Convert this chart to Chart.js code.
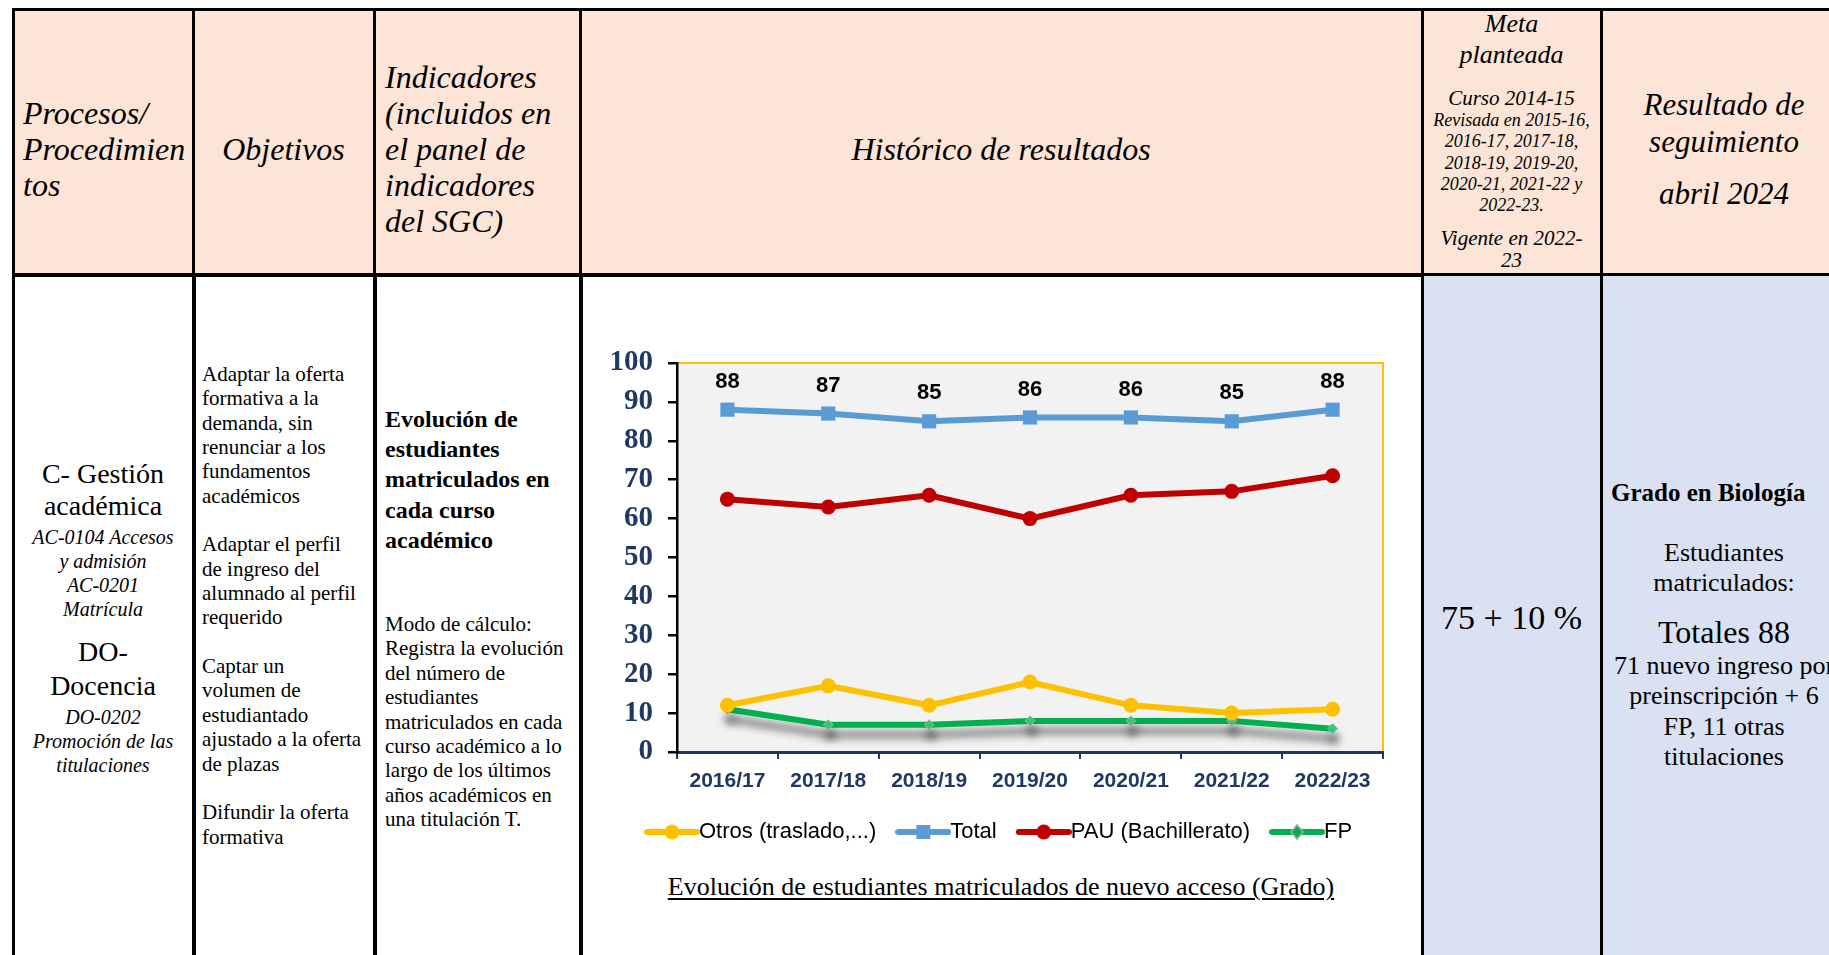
<!DOCTYPE html>
<html lang="es">
<head>
<meta charset="utf-8">
<title>Histórico de resultados - estudiantes matriculados</title>
<script src="https://cdn.jsdelivr.net/npm/chart.js@4.4.1/dist/chart.umd.min.js"></script>
<style>
  html, body { margin: 0; padding: 0; background: #fff; }
  body { width: 1829px; height: 955px; overflow: hidden; position: relative;
         font-family: "Liberation Serif", serif; color: #000; }
  .cell { position: absolute; box-sizing: border-box; border: 3px solid #000; }
  .head { background: #FCE4D6; }
  .azul { background: #D9E1F2; }
  .t { position: absolute; white-space: nowrap; }
  .i { font-style: italic; }
  .c { text-align: center; }
  #grafico { position: absolute; left: 583px; top: 276px; }
  #titulo { position: absolute; left: 583px; width: 836px; top: 871px; text-align: center;
            font-size: 26px; line-height: 32px; text-decoration: underline;
            text-decoration-thickness: 1.5px; text-underline-offset: 3px; }
</style>
</head>
<body>

<!-- cabecera -->
<div class="cell head" style="left:12px;top:8px;width:184px;height:269px"></div>
<div class="cell head" style="left:192px;top:8px;width:185px;height:269px"></div>
<div class="cell head" style="left:373px;top:8px;width:210px;height:269px"></div>
<div class="cell head" style="left:579px;top:8px;width:846px;height:269px"></div>
<div class="cell head" style="left:1421px;top:8px;width:183px;height:269px"></div>
<div class="cell head" style="left:1600px;top:8px;width:250px;height:269px"></div>

<!-- cuerpo -->
<div class="cell" style="left:12px;top:273px;width:184px;height:760px"></div>
<div class="cell" style="left:192px;top:273px;width:185px;height:760px"></div>
<div class="cell" style="left:373px;top:273px;width:210px;height:760px"></div>
<div class="cell" style="left:579px;top:273px;width:846px;height:760px"></div>
<div class="cell azul" style="left:1421px;top:273px;width:183px;height:760px"></div>
<div class="cell azul" style="left:1600px;top:273px;width:250px;height:760px"></div>

<!-- textos de la cabecera -->
<div class="t i" style="left:23px;top:95px;font-size:32px;line-height:36px">Procesos/<br>Procedimien<br>tos</div>
<div class="t i c" style="left:193px;width:181px;top:131px;font-size:32px;line-height:36px">Objetivos</div>
<div class="t i" style="left:385px;top:59px;font-size:32px;line-height:36px">Indicadores<br>(incluidos en<br>el panel de<br>indicadores<br>del SGC)</div>
<div class="t i c" style="left:580px;width:842px;top:131px;font-size:32px;line-height:36px">Histórico de resultados</div>

<div class="t i c" style="left:1422px;width:179px;top:8px;font-size:26px;line-height:31px">Meta<br>planteada</div>
<div class="t i c" style="left:1422px;width:179px;top:87px;font-size:21px;line-height:22px">Curso 2014-15</div>
<div class="t i c" style="left:1422px;width:179px;top:110px;font-size:18px;line-height:21.3px">Revisada en 2015-16,<br>2016-17, 2017-18,<br>2018-19, 2019-20,<br>2020-21, 2021-22 y<br>2022-23.</div>
<div class="t i c" style="left:1422px;width:179px;top:227px;font-size:21px;line-height:22px">Vigente en 2022-<br>23</div>

<div class="t i c" style="left:1601px;width:246px;top:86px;font-size:31px;line-height:37px">Resultado de<br>seguimiento</div>
<div class="t i c" style="left:1601px;width:246px;top:175px;font-size:31px;line-height:37px">abril 2024</div>

<!-- textos del cuerpo -->
<div class="t c" style="left:13px;width:180px;top:458px;font-size:28px;line-height:32px">C- Gestión<br>académica</div>
<div class="t i c" style="left:13px;width:180px;top:525px;font-size:20px;line-height:24px">AC-0104 Accesos<br>y admisión<br>AC-0201<br>Matrícula</div>
<div class="t c" style="left:13px;width:180px;top:635px;font-size:28px;line-height:34px">DO-<br>Docencia</div>
<div class="t i c" style="left:13px;width:180px;top:705px;font-size:20px;line-height:24px">DO-0202<br>Promoción de las<br>titulaciones</div>

<div class="t" style="left:202px;top:362px;font-size:21px;line-height:24.35px">Adaptar la oferta<br>formativa a la<br>demanda, sin<br>renunciar a los<br>fundamentos<br>académicos<br><br>Adaptar el perfil<br>de ingreso del<br>alumnado al perfil<br>requerido<br><br>Captar un<br>volumen de<br>estudiantado<br>ajustado a la oferta<br>de plazas<br><br>Difundir la oferta<br>formativa</div>

<div class="t" style="left:385px;top:404px;font-size:24px;line-height:30.2px;font-weight:bold">Evolución de<br>estudiantes<br>matriculados en<br>cada curso<br>académico</div>
<div class="t" style="left:385px;top:612px;font-size:21px;line-height:24.4px">Modo de cálculo:<br>Registra la evolución<br>del número de<br>estudiantes<br>matriculados en cada<br>curso académico a lo<br>largo de los últimos<br>años académicos en<br>una titulación T.</div>

<div class="t c" style="left:1422px;width:179px;top:598px;font-size:34px;line-height:40px">75 + 10 %</div>

<div class="t" style="left:1611px;top:478px;font-size:25px;line-height:30px;font-weight:bold">Grado en Biología</div>
<div class="t c" style="left:1601px;width:246px;top:538px;font-size:26px;line-height:30px">Estudiantes<br>matriculados:</div>
<div class="t c" style="left:1601px;width:246px;top:614px;font-size:32px;line-height:36px">Totales 88</div>
<div class="t c" style="left:1601px;width:246px;top:651px;font-size:26px;line-height:30.3px">71 nuevo ingreso por<br>preinscripción + 6<br>FP, 11 otras<br>titulaciones</div>

<canvas id="grafico" width="836" height="577"></canvas>
<div id="titulo">Evolución de estudiantes matriculados de nuevo acceso (Grado)</div>

<script>
// datos
const cursos = ['2016/17', '2017/18', '2018/19', '2019/20', '2020/21', '2021/22', '2022/23'];
const otros = [12, 17, 12, 18, 12, 10, 11];
const total = [88, 87, 85, 86, 86, 85, 88];
const pau = [65, 63, 66, 60, 66, 67, 71];
const fp = [11, 7, 7, 8, 8, 8, 6];
const nombres = ['Otros (traslado,...)', 'Total', 'PAU (Bachillerato)', 'FP'];
const yMin = 0;
const yMax = 100;
const yPaso = 10;

const AMARILLO = '#FFC000';
const AZUL = '#5B9BD5';
const ROJO = '#C00000';
const VERDE = '#00B050';
const NAVY = '#1F3864';
const PAD_LEYENDA = 31;

// icono de leyenda: linea con marcador en el centro (estilo Excel)
function iconoLeyenda(color, forma) {
    const c = document.createElement('canvas');
    c.width = 56;
    c.height = 18;
    const ctx = c.getContext('2d');
    ctx.strokeStyle = color;
    ctx.lineWidth = 6;
    ctx.lineCap = 'round';
    ctx.beginPath();
    ctx.moveTo(3, 9);
    ctx.lineTo(53, 9);
    ctx.stroke();
    ctx.fillStyle = color;
    ctx.beginPath();
    if (forma === 'circle') {
        ctx.arc(28, 9, 7.5, 0, Math.PI * 2);
        ctx.fill();
    } else if (forma === 'rect') {
        ctx.fillRect(21, 2, 14, 14);
    } else {
        ctx.moveTo(28, 2); ctx.lineTo(34, 9); ctx.lineTo(28, 16); ctx.lineTo(22, 9); ctx.closePath();
        ctx.fill();
        ctx.strokeStyle = '#A6A6A6';
        ctx.lineWidth = 1.5;
        ctx.stroke();
    }
    return c;
}

const iconos = [
    iconoLeyenda(AMARILLO, 'circle'),
    iconoLeyenda(AZUL, 'rect'),
    iconoLeyenda(ROJO, 'circle'),
    iconoLeyenda(VERDE, 'diamond')
];

// fondo gris del area de trazado y borde dorado arriba/derecha
const fondoPlot = {
    id: 'fondoPlot',
    beforeDraw(chart) {
        const { ctx, chartArea: a } = chart;
        ctx.save();
        ctx.fillStyle = '#F2F2F2';
        ctx.fillRect(a.left, a.top, a.right - a.left, a.bottom - a.top);
        ctx.strokeStyle = AMARILLO;
        ctx.lineWidth = 2;
        ctx.beginPath();
        ctx.moveTo(a.left, a.top);
        ctx.lineTo(a.right, a.top);
        ctx.lineTo(a.right, a.bottom);
        ctx.stroke();
        ctx.restore();
    }
};

// la leyenda arranca un poco a la izquierda del eje Y, como en el original
const posLeyenda = {
    id: 'posLeyenda',
    afterLayout(chart) {
        const lg = chart.legend;
        const d = (chart.chartArea.left - 21 - PAD_LEYENDA) - lg.left;
        lg.left += d;
        lg.right += d;
    }
};

// sombra gris debajo de la serie FP
const sombraFP = {
    id: 'sombraFP',
    beforeDatasetDraw(chart, args) {
        if (args.index !== 3) return;
        const ctx = chart.ctx;
        ctx.save();
        ctx.shadowColor = 'rgba(0, 0, 0, 0.55)';
        ctx.shadowBlur = 8;
        ctx.shadowOffsetX = 2;
        ctx.shadowOffsetY = 10;
    },
    afterDatasetDraw(chart, args) {
        if (args.index === 3) chart.ctx.restore();
    }
};

// etiquetas de valor de la serie Total
const etiquetasTotal = {
    id: 'etiquetasTotal',
    afterDatasetsDraw(chart) {
        const ctx = chart.ctx;
        const meta = chart.getDatasetMeta(1);
        ctx.save();
        ctx.font = 'bold 22px "Liberation Sans"';
        ctx.fillStyle = '#000';
        ctx.textAlign = 'center';
        ctx.textBaseline = 'middle';
        meta.data.forEach((pt, i) => {
            ctx.fillText(String(total[i]), pt.x, pt.y - 28);
        });
        ctx.restore();
    }
};

function serie(label, data, color, estilo, radio) {
    return {
        label: label,
        data: data,
        borderColor: color,
        backgroundColor: color,
        borderWidth: 6,
        pointStyle: estilo,
        pointRadius: radio,
        pointBorderWidth: 0,
        pointBackgroundColor: color,
        tension: 0
    };
}

const datasets = [
    serie(nombres[0], otros, AMARILLO, 'circle', 7.5),
    serie(nombres[1], total, AZUL, 'rect', 10),
    serie(nombres[2], pau, ROJO, 'circle', 7.5),
    serie(nombres[3], fp, VERDE, 'rectRot', 5)
];
datasets[3].pointBackgroundColor = '#3CC47A';
datasets[3].pointBorderColor = '#8FB8A0';
datasets[3].pointBorderWidth = 1;

new Chart(document.getElementById('grafico'), {
    type: 'line',
    data: { labels: cursos, datasets: datasets },
    options: {
        responsive: false,
        animation: false,
        devicePixelRatio: 1,
        layout: { padding: { top: 87, right: 36, left: 0, bottom: 0 } },
        scales: {
            x: {
                offset: true,
                grid: { drawOnChartArea: false, offset: true, tickLength: 7, color: NAVY, lineWidth: 2 },
                border: { color: NAVY, width: 3 },
                ticks: {
                    color: NAVY,
                    font: { family: '"Liberation Sans"', size: 21, weight: 'bold' },
                    padding: 10,
                    maxRotation: 0,
                    autoSkip: false
                },
                afterFit(s) { s.height = 38; }
            },
            y: {
                min: yMin,
                max: yMax,
                ticks: {
                    stepSize: yPaso,
                    color: NAVY,
                    font: { family: '"Liberation Serif"', size: 29, weight: 'bold' },
                    padding: 15
                },
                grid: { drawOnChartArea: false, tickLength: 9, color: '#000', lineWidth: 2.5 },
                border: { color: '#000', width: 2.5 },
                afterFit(s) { s.width = 94; }
            }
        },
        plugins: {
            legend: {
                position: 'bottom',
                align: 'start',
                labels: {
                    usePointStyle: true,
                    pointStyleWidth: 32,
                    padding: PAD_LEYENDA,
                    color: '#000',
                    font: { family: '"Liberation Sans"', size: 22 },
                    generateLabels(chart) {
                        return chart.data.datasets.map((ds, i) => ({
                            text: ds.label,
                            pointStyle: iconos[i],
                            datasetIndex: i,
                            hidden: false,
                            lineWidth: 0,
                            fillStyle: ds.borderColor,
                            strokeStyle: ds.borderColor,
                            fontColor: '#000'
                        }));
                    }
                }
            },
            tooltip: { enabled: false }
        }
    },
    plugins: [fondoPlot, posLeyenda, sombraFP, etiquetasTotal]
});
</script>
</body>
</html>
